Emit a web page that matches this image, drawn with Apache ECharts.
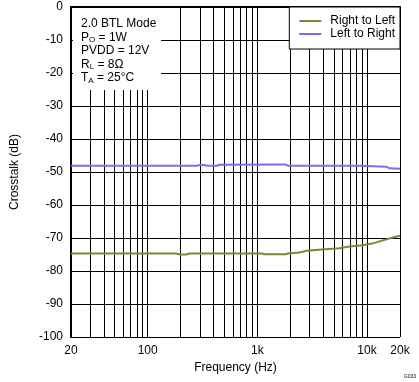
<!DOCTYPE html>
<html><head><meta charset="utf-8">
<script src="https://cdn.jsdelivr.net/npm/echarts@6/dist/echarts.min.js"></script>
<style>html,body{margin:0;padding:0;background:#fff}#c{width:419px;height:382px}</style>
</head><body><div id="c"></div>
<script>
const rlFreq = [20, 180, 200, 225, 240, 1100, 1150, 1800, 1900, 2400, 2800, 3900, 5600, 6900, 9000, 11100, 13700, 16900, 20000];
const rlVals = [-74.7, -74.7, -75.0, -75.0, -74.7, -74.7, -74.9, -74.9, -74.7, -74.4, -73.9, -73.5, -73.1, -72.6, -72.2, -71.7, -70.8, -69.9, -69.3];
const lrFreq = [20, 280, 300, 330, 350, 430, 450, 1800, 1900, 8800, 9000, 15000, 16000, 20000];
const lrVals = [-48.1, -48.1, -47.9, -47.9, -48.1, -48.1, -47.8, -47.7, -48.1, -48.1, -48.4, -48.4, -48.9, -49.0];
const minorFreqs = [30,40,50,60,70,80,90,200,300,400,500,600,700,800,900,2000,3000,4000,5000,6000,7000,8000,9000];
const seriesNames = ['Right to Left', 'Left to Right'];
const colors = ['#6f8b3b', '#7b6cf0'];

const font = "'Liberation Sans', Arial, sans-serif";
const chart = echarts.init(document.getElementById('c'));
const pair = (f, v) => f.map((x, i) => [x, v[i]]);
chart.setOption({
  animation: false,
  textStyle: { fontFamily: font },
  grid: { left: 71, right: 19, top: 7, bottom: 45 },
  legend: {
    right: 19, top: 7, orient: 'vertical',
    backgroundColor: '#fff', borderColor: '#000', borderWidth: 1, borderRadius: 0,
    padding: [8, 5, 9, 10], itemGap: 1, itemWidth: 22, itemHeight: 2, icon: 'rect',
    textStyle: { fontSize: 12, color: '#000', fontFamily: font, padding: [0, 0, 0, 4] },
    data: seriesNames, z: 20
  },
  xAxis: {
    type: 'log', logBase: 10, min: 20, max: 20000,
    name: 'Frequency (Hz)', nameLocation: 'middle', nameGap: 23,
    nameTextStyle: { fontSize: 12, color: '#000', fontFamily: font },
    axisLine: { show: true, lineStyle: { color: '#000', width: 2 } },
    axisTick: { show: false },
    splitLine: { show: true, lineStyle: { color: '#000', width: 1 } },
    axisLabel: { color: '#000', fontSize: 12, margin: 8, fontFamily: font,
      showMinLabel: true, showMaxLabel: true,
      formatter: v => v >= 1000 ? (Math.round(v / 1000) + 'k') : String(Math.round(v)) }
  },
  yAxis: {
    type: 'value', min: -100, max: 0, interval: 10,
    name: 'Crosstalk (dB)', nameLocation: 'middle', nameGap: 50,
    nameTextStyle: { fontSize: 12, color: '#000', fontFamily: font },
    axisLine: { show: true, lineStyle: { color: '#000', width: 2 } },
    axisTick: { show: false },
    splitLine: { show: true, lineStyle: { color: '#000', width: 1 } },
    axisLabel: { color: '#000', fontSize: 12, margin: 8, fontFamily: font }
  },
  graphic: [
    { type: 'rect', left: 73, top: 8, shape: { width: 88, height: 82 }, style: { fill: '#fff' }, z: 10 },
    { type: 'text', left: 81, top: 18, z: 11,
      style: {
        text: '{n|2.0 BTL Mode}\n{n|P}{s|O}{n| = 1W}\n{n|PVDD = 12V}\n{n|R}{s|L}{n| = 8Ω}\n{n|T}{s|A}{n| = 25°C}',
        rich: {
          n: { fontSize: 12, fontFamily: font, fill: '#000', lineHeight: 13.5 },
          s: { fontSize: 8, fontFamily: font, fill: '#000', lineHeight: 13.5, verticalAlign: 'bottom', padding: [5, 0, 0, 0] }
        }
      } },
    { type: 'text', right: 3, bottom: 3, z: 11, style: { text: 'G033', fontSize: 5, fontFamily: font, fill: '#000' } }
  ],
  series: [
    { name: seriesNames[0], type: 'line', data: pair(rlFreq, rlVals), showSymbol: false, symbol: 'none',
      lineStyle: { color: colors[0], width: 2 }, itemStyle: { color: colors[0] }, z: 5,
      markLine: { silent: true, symbol: 'none', label: { show: false },
        lineStyle: { color: '#000', width: 1, type: 'solid' },
        data: minorFreqs.map(f => ({ xAxis: f })), z: 1 } },
    { name: seriesNames[1], type: 'line', data: pair(lrFreq, lrVals), showSymbol: false, symbol: 'none',
      lineStyle: { color: colors[1], width: 2 }, itemStyle: { color: colors[1] }, z: 5 }
  ]
});
</script></body></html>
